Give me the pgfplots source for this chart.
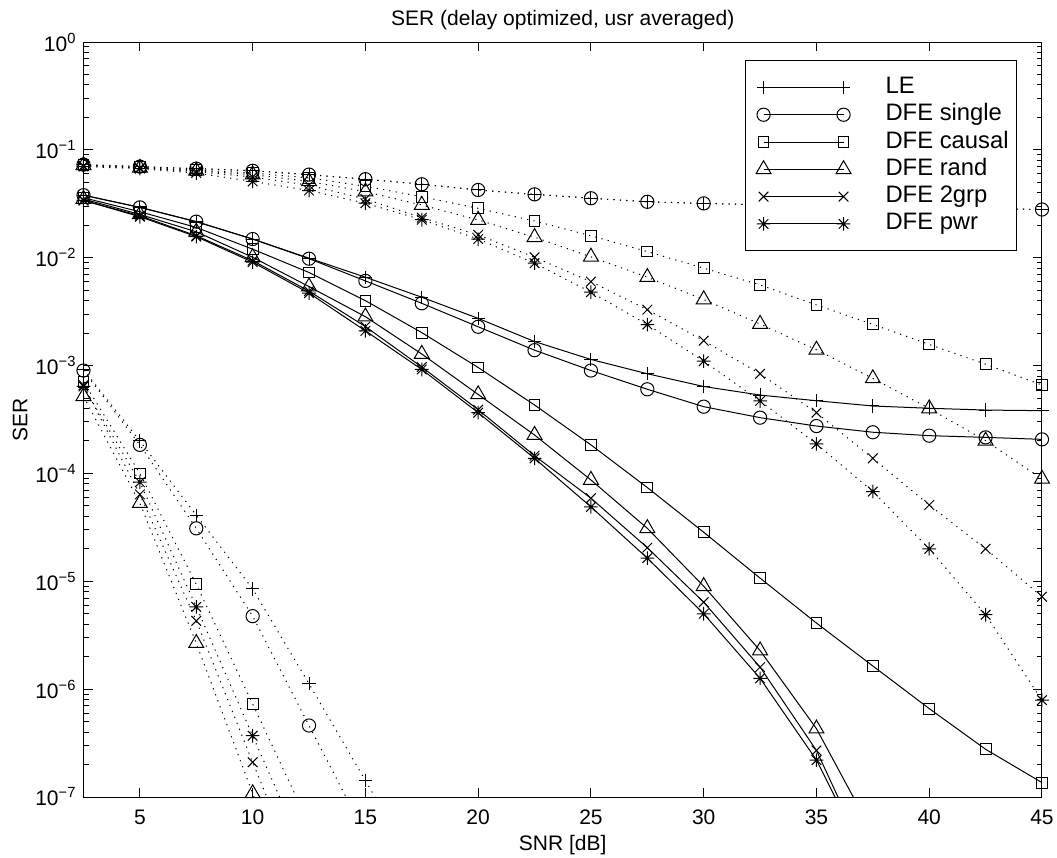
\documentclass[border=0pt]{standalone}
\usepackage{fontspec}
\setmainfont{Liberation Sans}
\usepackage{pgfplots}
\pgfplotsset{compat=1.18}

% matlab style '*' marker: plus and cross together
\pgfdeclareplotmark{mstar}{%
  \pgfpathmoveto{\pgfqpoint{-\pgfplotmarksize}{0pt}}\pgfpathlineto{\pgfqpoint{\pgfplotmarksize}{0pt}}%
  \pgfpathmoveto{\pgfqpoint{0pt}{-\pgfplotmarksize}}\pgfpathlineto{\pgfqpoint{0pt}{\pgfplotmarksize}}%
  \pgfpathmoveto{\pgfqpoint{-.7071\pgfplotmarksize}{-.7071\pgfplotmarksize}}\pgfpathlineto{\pgfqpoint{.7071\pgfplotmarksize}{.7071\pgfplotmarksize}}%
  \pgfpathmoveto{\pgfqpoint{-.7071\pgfplotmarksize}{.7071\pgfplotmarksize}}\pgfpathlineto{\pgfqpoint{.7071\pgfplotmarksize}{-.7071\pgfplotmarksize}}%
  \pgfusepathqstroke}

\newcommand\fmtexp[1]{\pgfmathtruncatemacro\myexp{round(#1)}\ifnum\myexp<0 −\number-\myexp\else\myexp\fi}

\pgfplotsset{
  mLE/.style={mark=+, mark size=3.3pt},
  mSingle/.style={mark=o, mark size=3.3pt},
  mCausal/.style={mark=square, mark size=2.7pt},
  mRand/.style={mark=triangle, mark size=4.3pt},
  m2grp/.style={mark=x, mark size=3.4pt},
  mPwr/.style={mark=mstar, mark size=3.4pt},
  dots/.style={dash pattern=on 0.6pt off 2.6pt, mark options={solid}},
}

\begin{document}
\begin{tikzpicture}
\useasboundingbox (-41.75pt,-30.5pt) rectangle (486.75pt,398.5pt);
\begin{axis}[
  at={(0,0)}, anchor=south west,
  scale only axis, width=479.25pt, height=377.5pt,
  xmin=2.5, xmax=45, ymode=log, log basis y=10, ymin=1e-7, ymax=1,
  xtick={5,10,...,45},
  /pgf/number format/assume math mode=true,
  log number format basis/.code 2 args={10\textsuperscript{\fmtexp{#2}}},
  log number format code/.code={10\textsuperscript{\fmtexp{#1}}},
  tick label style={font=\fontsize{10.5}{12}\selectfont},
  xticklabel style={yshift=-3pt},
  label style={font=\fontsize{10.5}{12}\selectfont},
  every axis title/.style={at={(0.5,1)}, anchor=base, yshift=8.5pt, font=\fontsize{10.5}{12}\selectfont},
  title={SER (delay optimized, usr averaged)},
  xlabel={SNR [dB]}, ylabel={SER},
  xlabel style={at={(axis description cs:0.5,-0.0636)}, anchor=center},
  ylabel style={at={(axis description cs:-0.0662,0.5)}, anchor=center},
  axis line style={line width=0.5pt},
  every tick/.style={black, line width=0.5pt},
  major tick length=4.5pt, minor tick length=2.5pt,
  legend style={at={(0.974,0.976)}, anchor=north east, draw=black, line width=0.5pt, fill=white,
    font=\fontsize{11.9}{14}\selectfont, inner xsep=4pt, inner ysep=7.4pt, row sep=1.65pt,
    nodes={inner sep=0pt, text height=9pt, text depth=3pt}},
  legend cell align=left,
  legend image code/.code={\draw plot coordinates {(0pt,0pt) (40pt,0pt)}; \path[draw=none] (-5pt,-5pt) rectangle (61pt,5pt);},
  every axis plot/.append style={black, line width=0.5pt},
]
% solid curves
\addplot[mLE] coordinates {(2.5,0.038)(5,0.0293)(7.5,0.0216)(10,0.0149)(12.5,0.0099)(15,0.0066)(17.5,0.0043)(20,0.00274)(22.5,0.00167)(25,0.00114)(27.5,0.00084)(30,0.00064)(32.5,0.000533)(35,0.000472)(37.5,0.000422)(40,0.000402)(42.5,0.000387)(45,0.000382)};
\addlegendentry{LE}
\addplot[mSingle] coordinates {(2.5,0.038)(5,0.0293)(7.5,0.0216)(10,0.0149)(12.5,0.0098)(15,0.0061)(17.5,0.00378)(20,0.00229)(22.5,0.00139)(25,0.00090)(27.5,0.000603)(30,0.000416)(32.5,0.000329)(35,0.000275)(37.5,0.000241)(40,0.000224)(42.5,0.000216)(45,0.000207)};
\addlegendentry{DFE single}
\addplot[mCausal] coordinates {(2.5,0.036)(5,0.0267)(7.5,0.0191)(10,0.0120)(12.5,0.0073)(15,0.0040)(17.5,0.00202)(20,0.00096)(22.5,0.000431)(25,0.000184)(27.5,7.4e-5)(30,2.85e-5)(32.5,1.07e-5)(35,4.1e-6)(37.5,1.64e-6)(40,6.6e-7)(42.5,2.77e-7)(45,1.36e-7)};
\addlegendentry{DFE causal}
\addplot[mRand, mark indices={1,...,14}] coordinates {(2.5,0.035)(5,0.0252)(7.5,0.0174)(10,0.0101)(12.5,0.0054)(15,0.00284)(17.5,0.00128)(20,0.00054)(22.5,0.000227)(25,8.7e-5)(27.5,3.1e-5)(30,9.0e-6)(32.5,2.28e-6)(35,4.3e-7)(37.5,4.6e-8)};
\addlegendentry{DFE rand}
\addplot[m2grp, mark indices={1,...,14}] coordinates {(2.5,0.034)(5,0.0245)(7.5,0.0160)(10,0.0094)(12.5,0.0049)(15,0.0023)(17.5,0.00097)(20,0.00039)(22.5,0.000146)(25,5.9e-5)(27.5,2.05e-5)(30,6.4e-6)(32.5,1.6e-6)(35,2.7e-7)(37.5,2.0e-8)};
\addlegendentry{DFE 2grp}
\addplot[mPwr, mark indices={1,...,14}] coordinates {(2.5,0.034)(5,0.024)(7.5,0.0157)(10,0.0091)(12.5,0.0047)(15,0.0021)(17.5,0.00092)(20,0.000366)(22.5,0.000138)(25,4.9e-5)(27.5,1.64e-5)(30,5.0e-6)(32.5,1.26e-6)(35,2.2e-7)(37.5,2.0e-8)};
\addlegendentry{DFE pwr}

% upper dotted curves
\addplot[mLE, dots, forget plot] coordinates {(2.5,0.073)(5,0.070)(7.5,0.067)(10,0.064)(12.5,0.059)(15,0.0535)(17.5,0.048)(20,0.0425)(22.5,0.0387)(25,0.0356)(27.5,0.033)(30,0.0319)(32.5,0.031)(35,0.030)(37.5,0.0295)(40,0.029)(42.5,0.0285)(45,0.028)};
\addplot[mSingle, dots, forget plot] coordinates {(2.5,0.073)(5,0.070)(7.5,0.067)(10,0.064)(12.5,0.059)(15,0.0535)(17.5,0.048)(20,0.0425)(22.5,0.0387)(25,0.0356)(27.5,0.033)(30,0.0319)(32.5,0.031)(35,0.030)(37.5,0.0295)(40,0.029)(42.5,0.0285)(45,0.028)};
\addplot[mCausal, dots, forget plot] coordinates {(2.5,0.072)(5,0.069)(7.5,0.065)(10,0.061)(12.5,0.055)(15,0.046)(17.5,0.0368)(20,0.0287)(22.5,0.0219)(25,0.016)(27.5,0.0114)(30,0.0080)(32.5,0.0056)(35,0.00365)(37.5,0.00241)(40,0.00157)(42.5,0.00103)(45,0.00066)};
\addplot[mRand, dots, forget plot] coordinates {(2.5,0.072)(5,0.068)(7.5,0.064)(10,0.059)(12.5,0.051)(15,0.041)(17.5,0.0308)(20,0.0224)(22.5,0.0155)(25,0.0102)(27.5,0.0066)(30,0.0041)(32.5,0.00243)(35,0.0014)(37.5,0.00076)(40,0.00040)(42.5,0.000201)(45,8.9e-5)};
\addplot[m2grp, dots, forget plot] coordinates {(2.5,0.071)(5,0.068)(7.5,0.063)(10,0.056)(12.5,0.047)(15,0.035)(17.5,0.0235)(20,0.0163)(22.5,0.0101)(25,0.0060)(27.5,0.0033)(30,0.0017)(32.5,0.00084)(35,0.000366)(37.5,0.000138)(40,5.1e-5)(42.5,2.0e-5)(45,7.2e-6)};
\addplot[mPwr, dots, forget plot] coordinates {(2.5,0.070)(5,0.067)(7.5,0.061)(10,0.051)(12.5,0.042)(15,0.032)(17.5,0.0225)(20,0.0149)(22.5,0.0089)(25,0.0048)(27.5,0.0024)(30,0.0011)(32.5,0.00047)(35,0.000188)(37.5,6.8e-5)(40,2.0e-5)(42.5,4.9e-6)(45,7.9e-7)};

% lower dotted curves
\addplot[mLE, dots, forget plot, mark indices={1,...,6}] coordinates {(2.5,9.2e-4)(5,2.0e-4)(7.5,4.1e-5)(10,8.5e-6)(12.5,1.12e-6)(15,1.42e-7)(17.5,1.8e-8)};
\addplot[mSingle, dots, forget plot, mark indices={1,...,5}] coordinates {(2.5,9.0e-4)(5,1.84e-4)(7.5,3.1e-5)(10,4.75e-6)(12.5,4.6e-7)(15,4.5e-8)};
\addplot[mCausal, dots, forget plot, mark indices={1,...,4}] coordinates {(2.5,7.1e-4)(5,1.0e-4)(7.5,9.4e-6)(10,7.3e-7)(12.5,5.6e-8)};
\addplot[mRand, dots, forget plot, mark indices={1,...,4}] coordinates {(2.5,5.2e-4)(5,5.3e-5)(7.5,2.67e-6)(10,1.08e-7)(12.5,4.4e-9)};
\addplot[m2grp, dots, forget plot, mark indices={1,...,4}] coordinates {(2.5,6.6e-4)(5,6.4e-5)(7.5,4.3e-6)(10,2.1e-7)(12.5,1.1e-8)};
\addplot[mPwr, dots, forget plot, mark indices={1,...,4}] coordinates {(2.5,6.4e-4)(5,8.3e-5)(7.5,5.8e-6)(10,3.7e-7)(12.5,2.4e-8)};
\end{axis}
\end{tikzpicture}
\end{document}
